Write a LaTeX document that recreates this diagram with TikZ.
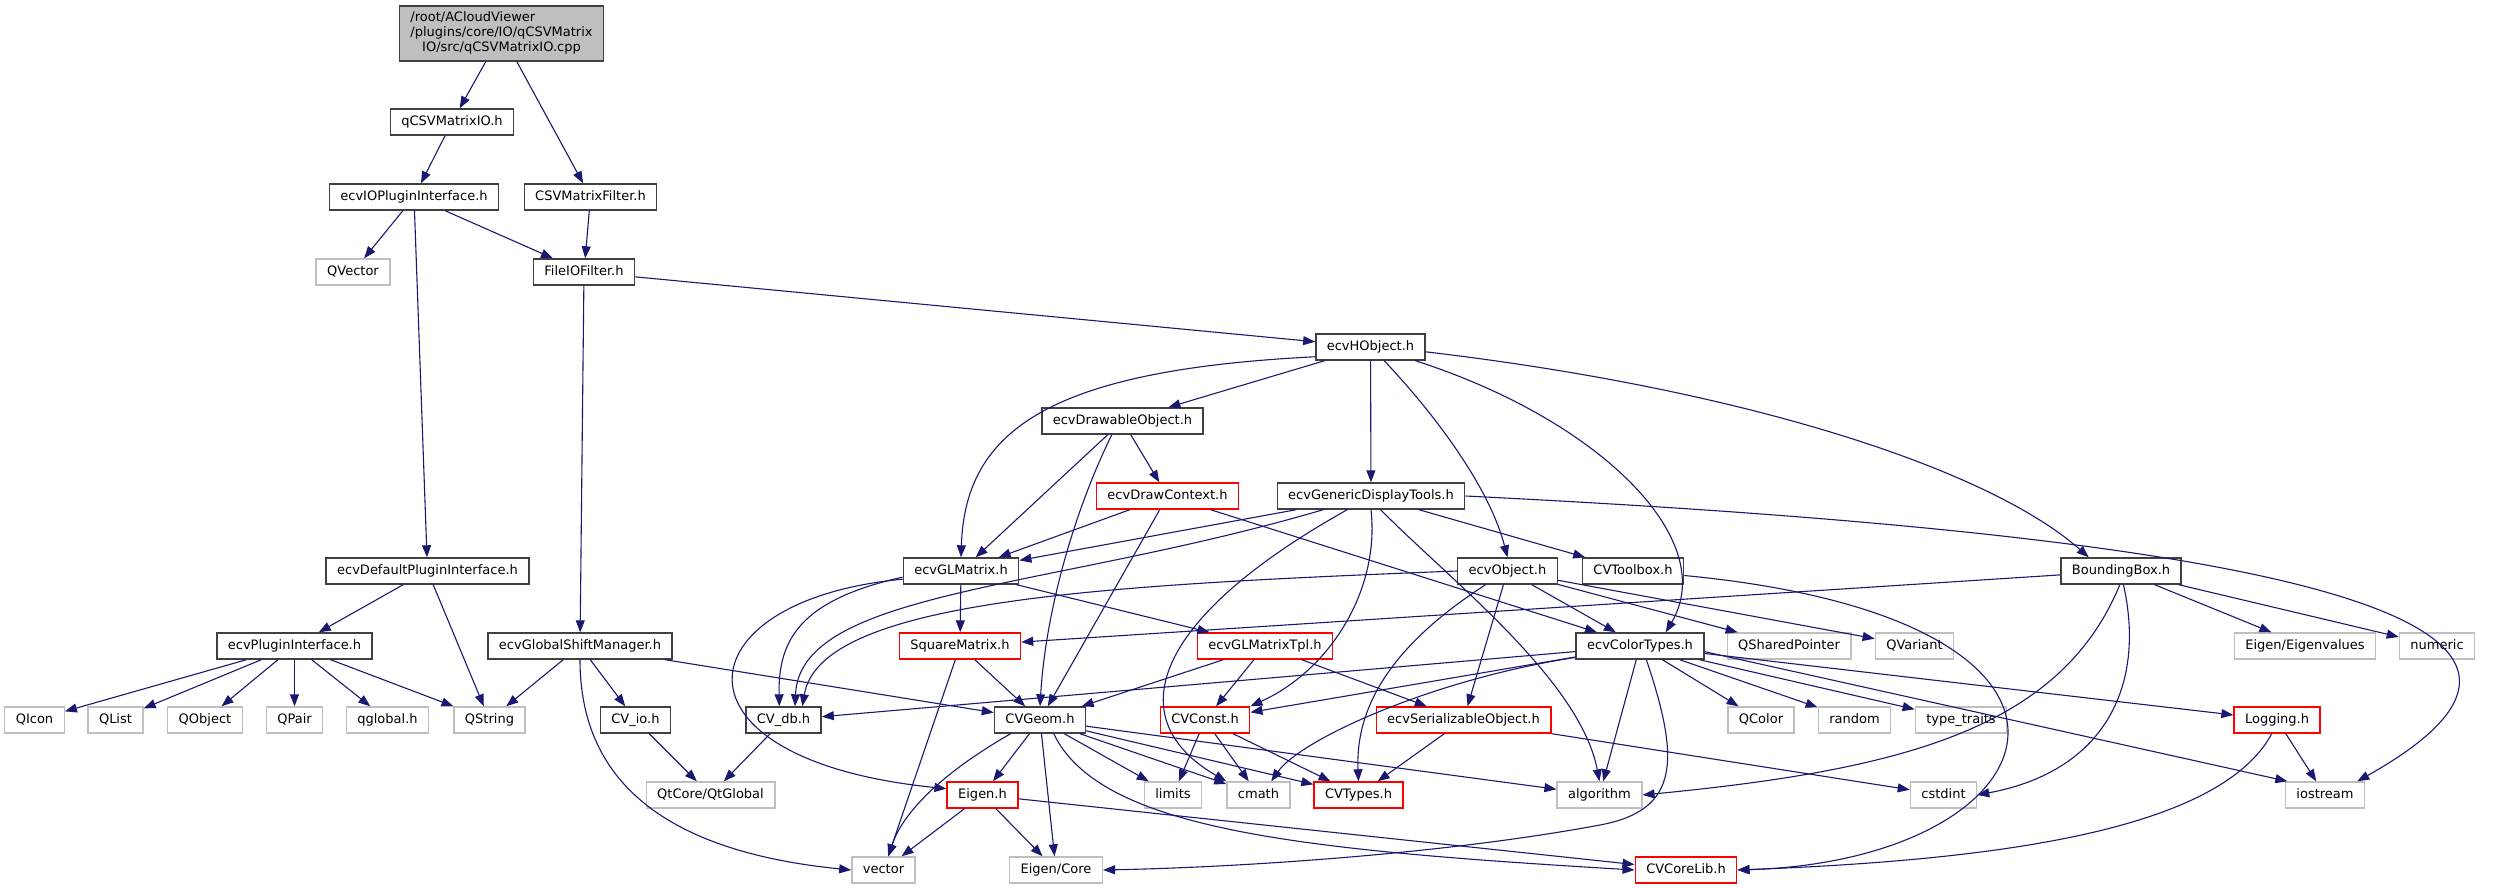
\documentclass[tikz,border=0pt]{standalone}
\usepackage{fontspec}
\setmainfont{DejaVu Sans}
\usetikzlibrary{arrows.meta}
\definecolor{edgeblue}{HTML}{191970}
\definecolor{grey25}{HTML}{404040}
\definecolor{grey75}{HTML}{BFBFBF}
\definecolor{truncred}{HTML}{FF0000}
\tikzset{
  file/.style={draw=grey25, fill=white, line width=1.4pt, inner xsep=11pt, inner ysep=0pt,
    minimum height=26pt, text height=9.8pt, text depth=3.2pt, font=\fontsize{13}{15}\selectfont},
  sysfile/.style={file, draw=grey75},
  cutfile/.style={file, draw=truncred},
  rootfile/.style={draw=grey25, fill=grey75, line width=1.4pt, inner xsep=11pt, inner ysep=0pt,
    minimum width=203pt, minimum height=55pt, font=\fontsize{13}{15}\selectfont},
  dep/.style={draw=edgeblue, line width=1.1pt, -{Triangle[length=12pt,width=9pt]}},
}
\begin{document}
\begin{tikzpicture}[x=1pt,y=-1pt]
      \useasboundingbox (0,0) rectangle (2504,888);
      \draw
        (501.5,33.5) node[rootfile] (0){\begin{tabular}{@{}l@{}}/root/ACloudViewer\\/plugins/core/IO/qCSVMatrix\\\multicolumn{1}{@{}c@{}}{IO/src/qCSVMatrixIO.cpp}\end{tabular}}
        (452,122) node[file] (1){qCSVMatrixIO.h}
        (414,197) node[file] (2){ecvIOPluginInterface.h}
        (590.5,197) node[file] (3){CSVMatrixFilter.h}
        (353,272) node[sysfile] (4){QVector}
        (584,272) node[file] (5){FileIOFilter.h}
        (1370.5,347) node[file] (6){ecvHObject.h}
        (1122.5,421) node[file] (7){ecvDrawableObject.h}
        (1167.5,496) node[cutfile] (8){ecvDrawContext.h}
        (1371,496) node[file] (9){ecvGenericDisplayTools.h}
        (427.5,571) node[file] (10){ecvDefaultPluginInterface.h}
        (961,571) node[file] (11){ecvGLMatrix.h}
        (1507.5,571) node[file] (12){ecvObject.h}
        (1633,571) node[file] (13){CVToolbox.h}
        (2121,571) node[file] (14){BoundingBox.h}
        (294.5,646) node[file] (15){ecvPluginInterface.h}
        (580,646) node[file] (16){ecvGlobalShiftManager.h}
        (960,646) node[cutfile] (17){SquareMatrix.h}
        (1265,646) node[cutfile] (18){ecvGLMatrixTpl.h}
        (1640,646) node[file] (19){ecvColorTypes.h}
        (1789,646) node[sysfile] (20){QSharedPointer}
        (1914.5,646) node[sysfile] (21){QVariant}
        (2305,646) node[sysfile] (22){Eigen/Eigenvalues}
        (2437,646) node[sysfile] (23){numeric}
        (34.5,720) node[sysfile] (24){QIcon}
        (115.5,720) node[sysfile] (25){QList}
        (205,720) node[sysfile] (26){QObject}
        (294.5,720) node[sysfile] (27){QPair}
        (387.5,720) node[sysfile] (28){qglobal.h}
        (489.5,720) node[sysfile] (29){QString}
        (635.5,720) node[file] (30){CV\_io.h}
        (783.5,720) node[file] (31){CV\_db.h}
        (1040,720) node[file] (32){CVGeom.h}
        (1205,720) node[cutfile] (33){CVConst.h}
        (1463.5,720) node[cutfile] (34){ecvSerializableObject.h}
        (1761,720) node[sysfile] (35){QColor}
        (1854.5,720) node[sysfile] (36){random}
        (1961,720) node[sysfile] (37){type\_traits}
        (2277,720) node[cutfile] (38){Logging.h}
        (710.5,795) node[sysfile] (39){QtCore/QtGlobal}
        (982.5,795) node[cutfile] (40){Eigen.h}
        (1173,795) node[sysfile] (41){limits}
        (1258.5,795) node[sysfile] (42){cmath}
        (1358.5,795) node[cutfile] (43){CVTypes.h}
        (1599.5,795) node[sysfile] (44){algorithm}
        (1943.5,795) node[sysfile] (45){cstdint}
        (2325,795) node[sysfile] (46){iostream}
        (883.5,870) node[sysfile] (47){vector}
        (1056,870) node[sysfile] (48){Eigen/Core}
        (1686,870) node[cutfile] (49){CVCoreLib.h};
      \begin{scope}[dep]
        \draw (0) to (1);
        \draw (0) to (3);
        \draw (1) to (2);
        \draw (2) to (4);
        \draw (2) to (5);
        \draw (2) to (10);
        \draw (3) to (5);
        \draw (5) to (6);
        \draw (5) to (16);
        \draw (10) to (15);
        \draw (10) to (29);
        \draw (15) to (24);
        \draw (15) to (25);
        \draw (15) to (26);
        \draw (15) to (27);
        \draw (15) to (28);
        \draw (15) to (29);
        \draw (16) to (29);
        \draw (16) to (30);
        \draw (16) to (32);
        \draw (16.south) .. controls (580,770) and (650,850) .. (47.west);
        \draw (30) to (39);
        \draw (6) to (7);
        \draw (6) to (9);
        \draw (6.190) .. controls (1050,370) and (965,430) .. (11.north);
        \draw (6.-45) .. controls (1440,420) and (1490,490) .. (12.north);
        \draw (6.-17) .. controls (1600,420) and (1720,540) .. (19.28);
        \draw (6.-5) .. controls (1750,390) and (1990,470) .. (14.157);
        \draw (7) to (11);
        \draw (7) to (8);
        \draw (7.-128) .. controls (1070,520) and (1045,620) .. (32.north);
        \draw (8) to (11);
        \draw (8) to (32);
        \draw (8) to (19);
        \draw (9) to (11);
        \draw (9) to (13);
        \draw (9.-164) .. controls (1050,590) and (800,590) .. (31.50);
        \draw (9.-150) .. controls (1150,620) and (1120,720) .. (42.north west);
        \draw (9.south) .. controls (1380,590) and (1330,670) .. (33.north east);
        \draw (9.-55) .. controls (1450,580) and (1580,680) .. (44.north);
        \draw (9.east) .. controls (2150,530) and (2680,600) .. (46.23);
        \draw (11) to (17);
        \draw (11) to (18);
        \draw (11.-174) .. controls (800,600) and (778,640) .. (31.107);
        \draw (11.-172) .. controls (680,600) and (660,760) .. (40.170);
        \draw (12) to (34);
        \draw (12) to (19);
        \draw (12) to (20);
        \draw (12) to (21);
        \draw (12.west) .. controls (1100,585) and (820,600) .. (31.36);
        \draw (12.-148) .. controls (1400,640) and (1355,700) .. (43.north);
        \draw (13.-5) .. controls (2150,620) and (2060,860) .. (49.east);
        \draw (14) to (17);
        \draw (14) to (22);
        \draw (14) to (23);
        \draw (14.-95) .. controls (2060,730) and (1900,770) .. (44.east);
        \draw (14.-80) .. controls (2145,680) and (2110,770) .. (45.east);
        \draw (17) to (47);
        \draw (17) to (32);
        \draw (18) to (32);
        \draw (18) to (33);
        \draw (18) to (34);
        \draw (19) to (31);
        \draw (19) to (33);
        \draw (19) to (44);
        \draw (19) to (35);
        \draw (19) to (36);
        \draw (19) to (37);
        \draw (19) to (38);
        \draw (19.-5) to (46.160);
        \draw (19.-170) .. controls (1430,680) and (1300,740) .. (42.47);
        \draw (19.-65) .. controls (1680,760) and (1680,810) .. (1600,825)
          .. controls (1450,853) and (1250,867) .. (48.east);
        \draw (31) to (39);
        \draw (32) to (40);
        \draw (32) to (48);
        \draw (32) to (41);
        \draw (32) to (42);
        \draw (32) to (43);
        \draw (32) to (44);
        \draw (32.-155) .. controls (930,780) and (900,820) .. (47.70);
        \draw (32.-45) .. controls (1100,830) and (1300,850) .. (49.west);
        \draw (33) to (41);
        \draw (33) to (42);
        \draw (33) to (43);
        \draw (34) to (43);
        \draw (34) to (45);
        \draw (38) to (46);
        \draw (38.-111) .. controls (2220,830) and (2000,860) .. (49.east);
        \draw (40) to (47);
        \draw (40) to (48);
        \draw (40) to (49);
      \end{scope}
    \end{tikzpicture}
\end{document}
